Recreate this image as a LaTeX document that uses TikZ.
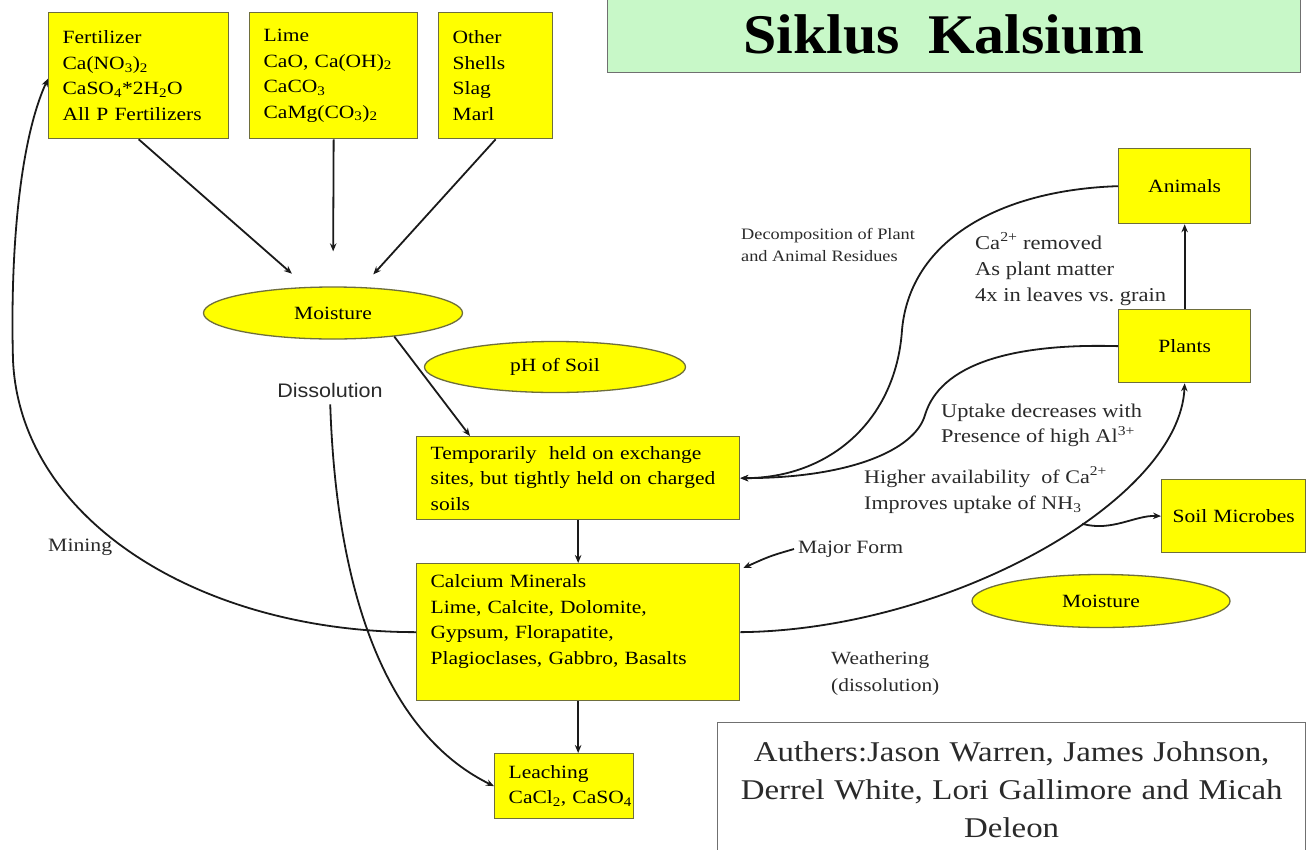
\documentclass[tikz,border=0pt]{standalone}
\usepackage{fontspec}
\setmainfont{Liberation Serif}[FakeStretch=1.15]
\newfontfamily\titlefont{Liberation Serif}[FakeStretch=1.07]
\newfontfamily\dissfont{Liberation Sans}[FakeStretch=1.1]
\usetikzlibrary{shapes.geometric,arrows.meta}
\definecolor{boxyellow}{HTML}{FFFF00}
\definecolor{boxline}{HTML}{6E6E3C}
\definecolor{titlegreen}{HTML}{C8F8C8}
\definecolor{titleline}{HTML}{707070}
\definecolor{arrowcol}{HTML}{1A1A1A}
\definecolor{lbltext}{HTML}{2A2A2A}
\begin{document}
\begin{tikzpicture}[x=1pt,y=-1pt,
  ybox/.style={draw=boxline, fill=boxyellow, line width=1.3pt, rectangle,
    anchor=north west, inner xsep=14pt, inner ysep=0pt, align=left,
    font=\fontsize{18.7}{25.5}\selectfont},
  ycbox/.style={ybox, align=center, inner xsep=4pt},
  yell/.style={ellipse, draw=boxline, fill=boxyellow, line width=1.3pt,
    inner sep=0pt, font=\fontsize{18.7}{25.5}\selectfont},
  lbl/.style={inner sep=0pt, align=left, anchor=west, text=lbltext},
  arr/.style={draw=arrowcol, line width=1.8pt, -{Stealth[length=8pt,width=6.5pt]}}
]
\useasboundingbox (0,0) rectangle (1306,849);
\clip (0,0) rectangle (1306,849);
\fill[white] (0,0) rectangle (1306,849);

% title
\node[draw=titleline, fill=titlegreen, line width=1.3pt, anchor=north west,
  minimum width=693pt, minimum height=77pt, inner sep=0pt,
  font=\titlefont\bfseries\fontsize{56}{56}\selectfont] (title) at (607,-5)
  {\hspace*{-20pt}Siklus\hspace{0.5em}Kalsium};

% source boxes
\node[ybox, minimum width=180pt, minimum height=126pt, text width=152pt] (fert) at (48,12)
  {Fertilizer\\Ca(NO\textsubscript{3})\textsubscript{2}\\CaSO\textsubscript{4}*2H\textsubscript{2}O\\All P Fertilizers};
\node[ybox, minimum width=168pt, minimum height=126pt, text width=140pt] (lime) at (249,12)
  {Lime\\CaO, Ca(OH)\textsubscript{2}\\CaCO\textsubscript{3}\\CaMg(CO\textsubscript{3})\textsubscript{2}};
\node[ybox, minimum width=114pt, minimum height=126pt, text width=86pt] (other) at (438,12)
  {Other\\Shells\\Slag\\Marl};

% ellipses
\node[yell, minimum width=259pt, minimum height=52pt] (moist1) at (333,313) {Moisture};
\node[yell, minimum width=261pt, minimum height=51pt] (ph) at (555,367) {pH of Soil};
\node[yell, minimum width=258pt, minimum height=53pt] (moist2) at (1101,601) {Moisture};

% central boxes
\node[ybox, minimum width=323pt, minimum height=83pt, text width=295pt] (temp) at (416,436)
  {Temporarily\ \ held on exchange\\sites, but tightly held on charged\\soils};
\node[ybox, minimum width=323pt, minimum height=137pt, text width=295pt] (calc) at (416,563)
  {Calcium Minerals\\Lime, Calcite, Dolomite,\\Gypsum, Florapatite,\\Plagioclases,\ Gabbro, Basalts\\\mbox{}};
\node[ybox, minimum width=139pt, minimum height=65pt, text width=111pt, inner xsep=13pt] (leach) at (494,753)
  {Leaching\\\mbox{CaCl\textsubscript{2}, CaSO\textsubscript{4}}};

% right boxes
\node[ycbox, minimum width=132pt, minimum height=75pt, text width=124pt] (animals) at (1118,148) {Animals};
\node[ycbox, minimum width=132pt, minimum height=73pt, text width=124pt] (plants) at (1118,309) {Plants};
\node[ycbox, minimum width=144pt, minimum height=73pt, text width=136pt] (microbes) at (1161,479) {Soil Microbes};

% authors
\node[draw=titleline, fill=white, line width=1.3pt, anchor=north west, text width=588pt,
  inner xsep=0pt, inner ysep=0pt, minimum height=135pt, align=center, text=lbltext,
  font=\fontsize{28.6}{38}\selectfont] (auth) at (717,722)
  {Authers:Jason Warren, James Johnson,\\Derrel White, Lori Gallimore and Micah\\Deleon};

% labels
\node[lbl, font=\fontsize{15.9}{22}\selectfont] (decomp) at (741,245) {Decomposition of Plant\\and Animal Residues};
\node[lbl, font=\fontsize{19.6}{26}\selectfont] (removed) at (975,269) {Ca\textsuperscript{2+} removed\\As plant matter\\4x in leaves\ vs.\ grain};
\node[lbl, font=\fontsize{19.4}{25}\selectfont] (uptake) at (941,425.5) {Uptake decreases\ with\\Presence of high Al\textsuperscript{3+}};
\node[lbl, font=\fontsize{19.2}{26}\selectfont] (higher) at (864,490) {Higher availability\ \ of Ca\textsuperscript{2+}\\Improves uptake of NH\textsubscript{3}};
\node[lbl, font=\fontsize{18.8}{25}\selectfont] (mf) at (798,549) {Major Form};
\node[lbl, font=\fontsize{18.6}{27}\selectfont] (weath) at (831,673.5) {Weathering\\(dissolution)};
\node[lbl, font=\fontsize{18.9}{25}\selectfont] (mining) at (48,547) {Mining};
\node[inner sep=0pt, text=lbltext, font=\dissfont\fontsize{19.6}{24}\selectfont] (diss) at (330,390) {Dissolution};

% connectors
\draw[arr, shorten >=20pt] (fert.south) -- (moist1.135);
\draw[arr, shorten >=35pt] (lime.south) -- (moist1.north);
\draw[arr, shorten >=17pt] (other.south) -- (moist1.42);
\draw[arr] (moist1.-21) -- ([xshift=54pt]temp.north west);
\draw[arr] (temp.south) -- (calc.north);
\draw[arr] (calc.south) -- (calc.south |- leach.north);

\draw[arr] (calc.west) .. controls (200,632) and (20,520) .. (13,360)
  .. controls (10,250) and (20,140) .. ([yshift=-3pt]fert.west);
\draw[arr, shorten <=7pt] (diss.south) .. controls (336,580) and (380,730) .. (leach.west);

\draw[arr] (plants.west) .. controls (1010,343) and (940,365) .. (925,415)
  .. controls (915,450) and (850,478) .. (temp.east);
\draw[arr] (animals.west) .. controls (1000,190) and (910,240) .. (902,330)
  .. controls (896,420) and (830,478) .. (temp.east);
\draw[arr] (plants.north) -- (animals.south);

\draw[arr] (calc.east) .. controls (950,630) and (1180,500) .. coordinate[pos=0.59] (branch) (plants.south);
\draw[arr] (branch) .. controls (1112,532) and (1135,515) .. (microbes.west);
\draw[arr] ([xshift=-4pt]mf.west) .. controls (770,556) .. ([yshift=-5pt,xshift=3pt]calc.north east);
\end{tikzpicture}
\end{document}
